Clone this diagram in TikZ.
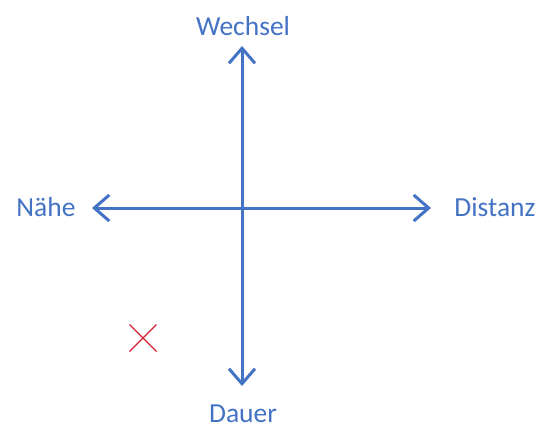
\documentclass[tikz,border=0pt]{standalone}
\usepackage{fontspec}
\setmainfont{Carlito}
\usetikzlibrary{arrows.meta,calc}
\definecolor{axisblue}{HTML}{4472C4}
\definecolor{markred}{HTML}{D0202E}
\tikzset{
  barb/.tip={Straight Barb[length=15pt,width=26pt]},
  axis/.style={draw=axisblue, line width=3pt, line cap=round, line join=round,
    {barb}-{barb}},
  axislabel/.style={text=axisblue, font=\fontsize{27.5}{30}\selectfont, inner sep=0pt, anchor=base},
  cross/.style={draw=markred, line width=1.2pt}
}
\begin{document}
\begin{tikzpicture}[x=1pt,y=-1pt]
  \useasboundingbox (0,0) rectangle (547,426);
  % axis end points
  \coordinate (top) at (242,46);
  \coordinate (bottom) at (242,386);
  \coordinate (left) at (92,208);
  \coordinate (right) at (431,208);
  % axes
  \draw[axis] (top) -- (bottom);
  \draw[axis] (left) -- (right);
  % labels
  \node[axislabel] (wechsel) at (243,35) {Wechsel};
  \node[axislabel] (dauer) at (243,422) {Dauer};
  \node[axislabel] (naehe) at (46,216) {Nähe};
  \node[axislabel] (distanz) at (495,216) {Distanz};
  % marker
  \coordinate (m) at (143,338);
  \draw[cross] ($(m)+(-13.5,-13.5)$) -- ($(m)+(13.5,13.5)$);
  \draw[cross] ($(m)+(-13.5,13.5)$) -- ($(m)+(13.5,-13.5)$);
\end{tikzpicture}
\end{document}
